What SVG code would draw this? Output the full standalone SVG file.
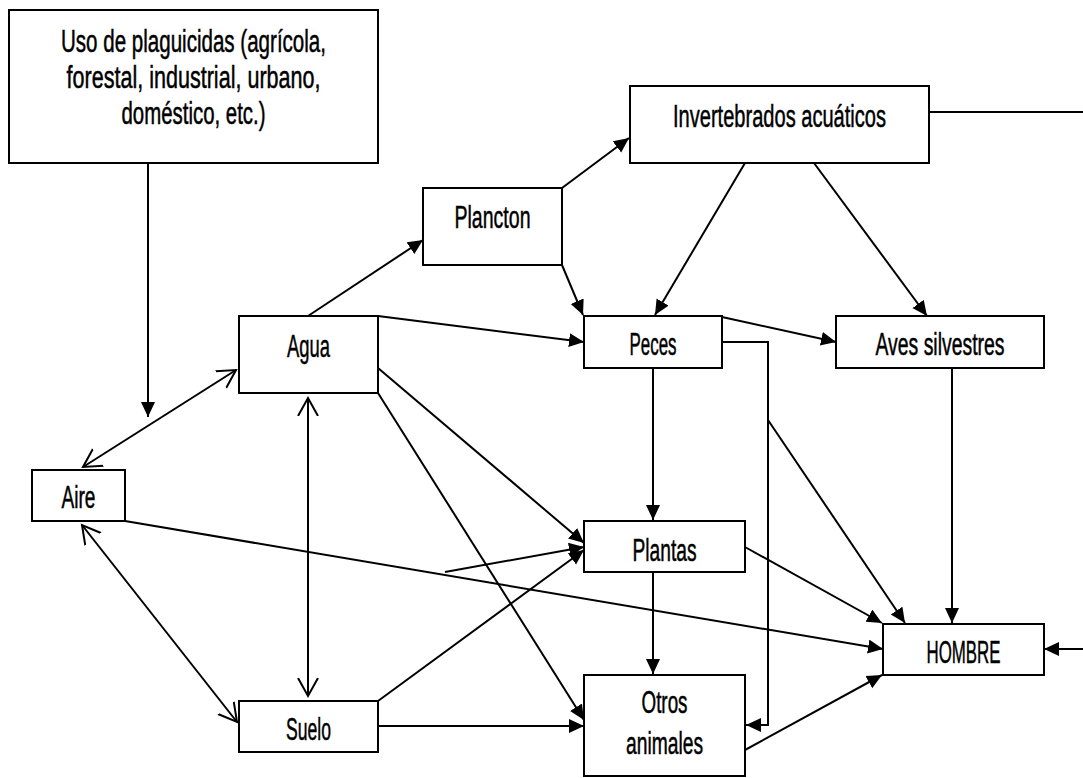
<svg xmlns="http://www.w3.org/2000/svg" width="1083" height="778" viewBox="0 0 1083 778">
<style>
.box{fill:#fff;stroke:#000;stroke-width:2}
.t{font-family:"Liberation Sans Narrow","Liberation Sans",Arial,sans-serif;font-size:31px;fill:#000;stroke:#000;stroke-width:0.5;text-anchor:middle}
.c{fill:none;stroke:#000;stroke-width:2}
.a{marker-end:url(#fa)}
.b{marker-start:url(#oa);marker-end:url(#oa)}
</style>
<defs>
<marker id="fa" markerUnits="userSpaceOnUse" markerWidth="16" markerHeight="16" refX="15" refY="7" orient="auto"><path d="M0,0 L15,7 L0,14 z" fill="#000"/></marker>
<marker id="oa" markerUnits="userSpaceOnUse" markerWidth="22" markerHeight="24" refX="18" refY="11" orient="auto-start-reverse"><path d="M0,1 L18,11 L0,21" fill="none" stroke="#000" stroke-width="2"/></marker>
</defs>
<rect width="1083" height="778" fill="#fff"/>
<g id="connectors">
<line class="c a" x1="148" y1="163" x2="148" y2="417"/>
<line class="c b" x1="83" y1="467" x2="236" y2="370"/>
<line class="c b" x1="82" y1="525" x2="237" y2="722"/>
<line class="c b" x1="308" y1="398" x2="308" y2="696"/>
<line class="c a" x1="125" y1="521" x2="883" y2="649"/>
<line class="c a" x1="308" y1="316" x2="423" y2="240"/>
<line class="c a" x1="378" y1="316" x2="584" y2="342"/>
<line class="c a" x1="378" y1="368" x2="584" y2="543"/>
<line class="c a" x1="378" y1="393" x2="584" y2="720"/>
<line class="c a" x1="445" y1="572" x2="584" y2="547"/>
<line class="c a" x1="378" y1="701" x2="584" y2="550"/>
<line class="c a" x1="378" y1="726" x2="584" y2="726"/>
<line class="c a" x1="562" y1="188" x2="629" y2="138"/>
<line class="c a" x1="562" y1="265" x2="583" y2="315"/>
<line class="c a" x1="745" y1="163" x2="655" y2="315"/>
<line class="c a" x1="814" y1="163" x2="927" y2="316"/>
<line class="c" x1="929" y1="112" x2="1083" y2="112"/>
<line class="c a" x1="722" y1="317" x2="836" y2="342"/>
<line class="c a" x1="653" y1="368" x2="653" y2="520"/>
<polyline class="c a" points="722,342 768,342 768,725 746,725"/>
<line class="c a" x1="768" y1="420" x2="905" y2="623"/>
<line class="c a" x1="952" y1="368" x2="952" y2="623"/>
<line class="c a" x1="653" y1="572" x2="653" y2="674"/>
<line class="c a" x1="745" y1="547" x2="882" y2="623"/>
<line class="c a" x1="745" y1="750" x2="882" y2="675"/>
<line class="c a" x1="1083" y1="649" x2="1044" y2="649"/>
</g>
<g id="n-uso">
<rect class="box" x="9" y="10" width="369" height="153"/>
<text class="t" x="193.5" y="52" textLength="265" lengthAdjust="spacingAndGlyphs">Uso de plaguicidas (agrícola,</text>
<text class="t" x="193.5" y="88" textLength="254" lengthAdjust="spacingAndGlyphs">forestal, industrial, urbano,</text>
<text class="t" x="193.5" y="124" textLength="144" lengthAdjust="spacingAndGlyphs">doméstico, etc.)</text>
</g>
<g id="n-invertebrados">
<rect class="box" x="630" y="86" width="299" height="77"/>
<text class="t" x="779.5" y="127" textLength="213" lengthAdjust="spacingAndGlyphs">Invertebrados acuáticos</text>
</g>
<g id="n-plancton">
<rect class="box" x="423" y="188" width="139" height="77"/>
<text class="t" x="492.5" y="228" textLength="76" lengthAdjust="spacingAndGlyphs">Plancton</text>
</g>
<g id="n-agua">
<rect class="box" x="239" y="316" width="139" height="77"/>
<text class="t" x="308.5" y="357" textLength="43" lengthAdjust="spacingAndGlyphs">Agua</text>
</g>
<g id="n-peces">
<rect class="box" x="584" y="316" width="138" height="52"/>
<text class="t" x="653" y="355" textLength="47" lengthAdjust="spacingAndGlyphs">Peces</text>
</g>
<g id="n-aves">
<rect class="box" x="836" y="316" width="208" height="52"/>
<text class="t" x="940" y="355" textLength="129" lengthAdjust="spacingAndGlyphs">Aves silvestres</text>
</g>
<g id="n-aire">
<rect class="box" x="32" y="470" width="93" height="51"/>
<text class="t" x="78.5" y="508" textLength="34" lengthAdjust="spacingAndGlyphs">Aire</text>
</g>
<g id="n-plantas">
<rect class="box" x="584" y="521" width="161" height="51"/>
<text class="t" x="664.5" y="561" textLength="64" lengthAdjust="spacingAndGlyphs">Plantas</text>
</g>
<g id="n-hombre">
<rect class="box" x="883" y="624" width="161" height="51"/>
<text class="t" x="963.5" y="663" textLength="74" lengthAdjust="spacingAndGlyphs">HOMBRE</text>
</g>
<g id="n-suelo">
<rect class="box" x="239" y="701" width="139" height="51"/>
<text class="t" x="308.5" y="740" textLength="45" lengthAdjust="spacingAndGlyphs">Suelo</text>
</g>
<g id="n-otros">
<rect class="box" x="584" y="675" width="161" height="101"/>
<text class="t" x="664.5" y="713" textLength="46" lengthAdjust="spacingAndGlyphs">Otros</text>
<text class="t" x="664.5" y="754" textLength="77" lengthAdjust="spacingAndGlyphs">animales</text>
</g>
</svg>
